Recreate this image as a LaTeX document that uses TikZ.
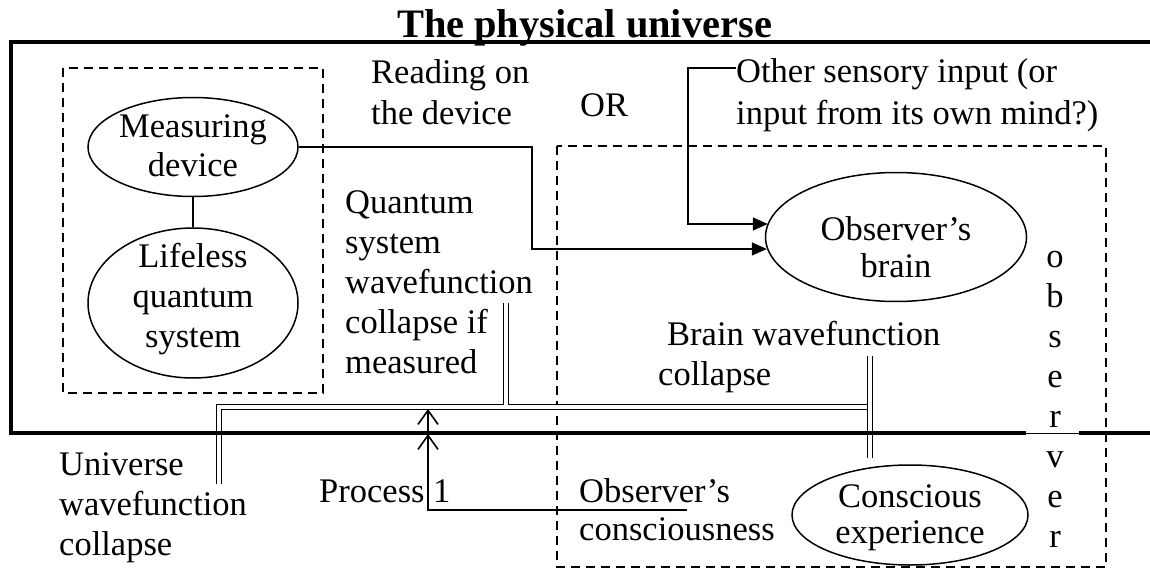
\documentclass[tikz,border=0pt]{standalone}
\usepackage{fontspec}
\setmainfont{Liberation Serif}
\usetikzlibrary{arrows.meta,shapes.geometric}
\begin{document}
\begin{tikzpicture}[x=1pt,y=-1pt,
  txt/.style={inner sep=0pt, anchor=base west, align=left, font=\fontsize{34.5}{40}\selectfont},
  ctxt/.style={inner sep=0pt, anchor=base, align=center, font=\fontsize{34.5}{40}\selectfont},
  oval/.style={ellipse, draw, line width=1.5pt, inner sep=0pt},
  dbl/.style={double=white, line width=1.4pt, double distance=3.6pt},
  flow/.style={line width=1.6pt},
  headtri/.style={-{Triangle[length=15pt,width=13pt]}},
  headbarb/.style={-{Straight Barb[length=14pt,width=20pt,line width=1.6pt]}},
  dbox/.style={draw, dash pattern=on 9pt off 6pt}
]
\useasboundingbox[fill=white] (0,0) rectangle (1150,569);

% dashed boxes
\draw[dbox, line width=1.8pt] (63,68) rectangle (323,393);
\draw[dbox, line width=1.3pt] (557,146) rectangle (1106,567);

% ellipses
\node[oval, minimum width=210pt, minimum height=99pt] (md) at (193,147) {};
\node[oval, minimum width=210pt, minimum height=150pt] (lq) at (193,303) {};
\node[oval, minimum width=261pt, minimum height=129pt] (brain) at (896,237) {};
\node[oval, minimum width=236pt, minimum height=100pt] (ce) at (910,515) {};

% multi-line texts: anchor at the baseline of the last line
\node[ctxt] (mdt) at (193,177) {Measuring\\[-1pt]device};
\node[ctxt] (lqt) at (193,347) {Lifeless\\quantum\\system};
\node[ctxt] (brt) at (896,277) {Observer’s\\[-3pt]brain};
\node[ctxt] (cet) at (910,543) {Conscious\\[-4pt]experience};

% title
\node[inner sep=0pt, anchor=base, font=\bfseries\fontsize{40.4}{48}\selectfont] (title) at (584.5,38) {The physical universe};

% labels
\node[txt] (read) at (371,125) {Reading on\\[1pt]the device};
\node[txt] (or) at (580,117) {OR};
\node[txt] (other) at (736,125) {Other sensory input (or\\[2pt]input from its own mind?)};
\node[txt] (qs) at (345,373) {Quantum\\system\\wavefunction\\collapse if\\measured};
\node[txt] (bw) at (658,385) {\hspace*{9pt}Brain wavefunction\\collapse};
\node[txt] (uw) at (59,555) {Universe\\wavefunction\\collapse};
\node[txt] (p1) at (319,502) {Process 1};
\node[txt] (oc) at (579,540) {Observer’s\\[-2pt]consciousness};
\node[ctxt] (obs) at (1055,547) {o\\b\\s\\e\\r\\v\\e\\r};

% helper coordinates
\coordinate (otherin) at (736,68);
\coordinate (ocline) at (687,510);
\coordinate (qtop) at (506,303);
\coordinate (btop) at (870,356);
\coordinate (bbot) at (870,458);
\coordinate (ubot) at (219,484);
\coordinate (p1mid) at (428,434);
\coordinate (p1top) at (428,409);

% connectors
\draw[line width=1.5pt] (md.south) -- (lq.north);
\draw[flow, headtri] (md.east) -- (532,147) -- (532,249) -- ([shift={(2,12)}]brain.west);
\draw[flow, headtri] (otherin) -- (688,68) -- (688,224) -- ([shift={(3,-13)}]brain.west);

% double lines
\draw[dbl] (ubot) -- (219,407) -- (868,407);
\draw[dbl] (qtop) -- (506,404.5);
\draw[dbl] (btop) -- (bbot);

% process 1
\draw[flow, headbarb] (ocline) -- (428,510) -- (p1mid);
\draw[flow, headbarb] (p1mid) -- (p1top);

% physical universe frame
\draw[line width=4pt] (1165,42) -- (11,42) -- (11,433) -- (1026,433);
\draw[line width=4pt] (1079,433) -- (1165,433);
\draw[line width=1.6pt] (1026,433.5) -- (1079,433.5);
\end{tikzpicture}
\end{document}
